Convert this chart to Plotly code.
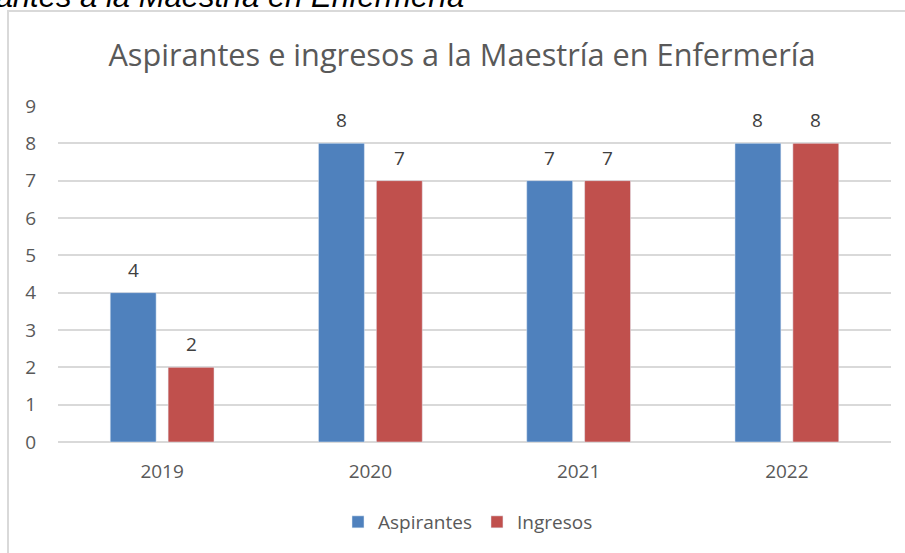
import plotly.graph_objects as go

years = ["2019", "2020", "2021", "2022"]
aspirantes = [4, 8, 7, 8]
ingresos = [2, 7, 7, 8]
y_ticks = [0, 1, 2, 3, 4, 5, 6, 7, 8, 9]

W, H = 905, 553
L, R, T, B = 58, 14, 106, 111
plot_w = W - L - R
plot_h = H - T - B

font_name = "Open Sans"
gray = "#595959"

fig = go.Figure()
fig.add_trace(go.Bar(name="Aspirantes", x=years, y=aspirantes, marker_color="#4F81BD"))
fig.add_trace(go.Bar(name="Ingresos", x=years, y=ingresos, marker_color="#C0504D"))

# data labels sit a bit higher above the bars than plotly's own "outside" text
# (category axis: annotations take the category's serial number)
for vals, dx in [(aspirantes, -29), (ingresos, 29)]:
    for i, v in enumerate(vals):
        fig.add_annotation(x=i, y=v, text=str(v), showarrow=False,
                           xshift=dx, yshift=23, yanchor="middle",
                           font=dict(family=font_name, size=19, color="#404040"))

# chart frame (only left/top edges are in view)
fig.add_shape(type="rect", xref="paper", yref="paper",
              x0=(8 - L) / plot_w, x1=1.2,
              y0=-0.6, y1=(H - B - 11) / plot_h,
              line=dict(color="#d9d9d9", width=2), layer="below")

# cropped caption text above the frame
fig.add_annotation(text="<i>Aspirantes a la Maestría en Enfermería</i>",
                   xref="paper", yref="paper", showarrow=False,
                   x=(466 - L) / plot_w, xanchor="right",
                   y=(H - B - 16) / plot_h, yanchor="bottom",
                   font=dict(family="Liberation Sans", size=31, color="black"))

fig.update_layout(
    width=W, height=H,
    margin=dict(l=L, r=R, t=T, b=B, autoexpand=False),
    paper_bgcolor="white", plot_bgcolor="white",
    font=dict(family=font_name, color=gray),
    title=dict(text="Aspirantes e ingresos a la Maestría en Enfermería",
               x=462 / W, xanchor="center", y=1 - 55 / H, yanchor="middle",
               yref="container", font=dict(size=30.7, color=gray, family=font_name)),
    barmode="group", bargap=0.444, bargroupgap=0.207,
    showlegend=True,
    legend=dict(orientation="h", x=(468 - L) / plot_w, xanchor="center",
                y=(H - B - 522) / plot_h, yanchor="middle",
                font=dict(size=19, color=gray), itemwidth=30),
    xaxis=dict(type="category", range=[-0.5, len(years) - 0.5], showline=False,
               ticks="", automargin=False, ticklabelstandoff=16,
               tickfont=dict(size=19, color=gray)),
    yaxis=dict(range=[0, 9], tickvals=y_ticks, showgrid=True, gridcolor="#d9d9d9",
               gridwidth=1.5, zeroline=True, zerolinecolor="#d9d9d9", zerolinewidth=1.5,
               ticks="", automargin=False, ticklabelstandoff=21,
               tickfont=dict(size=19, color=gray)),
)

# drop the page's default 8px body margin so the figure sits at the window corner
fig.write_html("out.html", config={"displayModeBar": False},
               post_script="document.body.style.margin='0';")
